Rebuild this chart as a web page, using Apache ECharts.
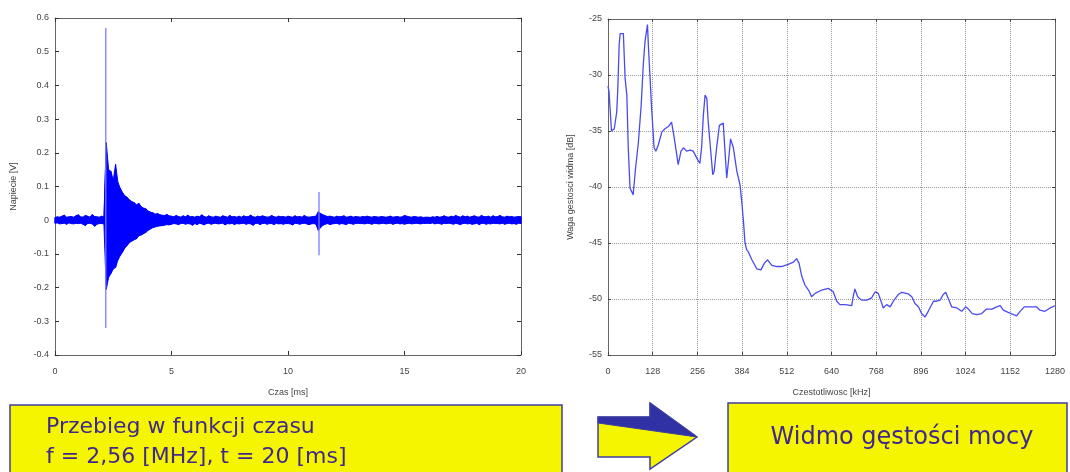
<!DOCTYPE html>
<html>
<head>
<meta charset="utf-8">
<script src="https://cdn.jsdelivr.net/npm/echarts@6/dist/echarts.min.js"></script>
<style>
  html, body { margin: 0; padding: 0; background: #fff; }
  #chart { width: 1070px; height: 472px; }
</style>
</head>
<body>
<div id="chart"></div>
<script>
// time signal, sampled envelope every 0.1 ms (upper / lower excursion)
const sigStep = 0.1
const sigHi = [
  .008, .010, .009, .012, .015, .009, .010, .011, .009, .013,
  .016, .010, .009, .014, .012, .009, .017, .011, .010, .009,
  .012, .010, .230, .150, .145, .118, .165, .112, .095, .082,
  .072, .068, .060, .055, .052, .046, .050, .040, .036, .034,
  .027, .024, .022, .018, .020, .016, .015, .014, .017, .013,
  .012, .010, .014, .011, .009, .013, .010, .015, .010, .011,
  .009, .012, .010, .016, .011, .009, .013, .010, .009, .012,
  .010, .009, .013, .011, .009, .014, .010, .011, .009, .012,
  .009, .013, .010, .011, .015, .010, .009, .012, .010, .013,
  .011, .009, .010, .014, .010, .009, .012, .010, .011, .009,
  .012, .010, .009, .013, .010, .011, .009, .014, .010, .009,
  .010, .011, .012, .025, .020, .016, .013, .011, .012, .010,
  .009, .012, .010, .011, .013, .009, .010, .012, .009, .011,
  .010, .009, .011, .010, .012, .010, .009, .011, .010, .009,
  .011, .010, .009, .010, .012, .009, .010, .011, .009, .010,
  .014, .012, .010, .009, .011, .010, .009, .010, .008, .009,
  .009, .008, .010, .009, .011, .009, .010, .013, .010, .009,
  .012, .010, .014, .011, .009, .013, .010, .012, .009, .011,
  .013, .010, .009, .014, .011, .010, .012, .009, .013, .010,
  .011, .014, .010, .009, .012, .010, .011, .009, .010, .011,
  .010
]
const sigLo = [
  -.009, -.008, -.011, -.010, -.009, -.012, -.008, -.010, -.011, -.009,
  -.010, -.009, -.012, -.016, -.010, -.009, -.011, -.018, -.012, -.010,
  -.010, -.011, -.205, -.170, -.158, -.145, -.140, -.118, -.105, -.095,
  -.082, -.075, -.066, -.062, -.058, -.055, -.046, -.044, -.040, -.036,
  -.030, -.026, -.022, -.020, -.018, -.017, -.016, -.015, -.013, -.014,
  -.012, -.010, -.011, -.013, -.010, -.009, -.012, -.010, -.011, -.015,
  -.010, -.013, -.009, -.011, -.014, -.010, -.009, -.012, -.010, -.009,
  -.011, -.010, -.009, -.014, -.010, -.011, -.009, -.013, -.010, -.011,
  -.010, -.009, -.012, -.010, -.011, -.015, -.010, -.009, -.013, -.010,
  -.009, -.012, -.010, -.010, -.013, -.009, -.011, -.010, -.012, -.010,
  -.010, -.011, -.014, -.009, -.010, -.012, -.010, -.009, -.011, -.013,
  -.011, -.010, -.012, -.030, -.022, -.015, -.012, -.010, -.013, -.011,
  -.010, -.009, -.012, -.010, -.011, -.013, -.009, -.010, -.012, -.010,
  -.009, -.010, -.010, -.011, -.009, -.010, -.012, -.009, -.010, -.011,
  -.010, -.009, -.011, -.010, -.009, -.012, -.010, -.009, -.011, -.010,
  -.012, -.010, -.009, -.011, -.010, -.009, -.010, -.011, -.009, -.010,
  -.009, -.010, -.008, -.011, -.009, -.010, -.012, -.009, -.010, -.009,
  -.010, -.012, -.009, -.011, -.013, -.010, -.009, -.011, -.010, -.012,
  -.011, -.009, -.013, -.010, -.009, -.012, -.010, -.011, -.009, -.010,
  -.010, -.011, -.009, -.012, -.010, -.009, -.011, -.010, -.012, -.009,
  -.010
]
// single sharp spikes: time [ms], max, min
const spikeT = [2.18, 11.33]
const spikeHi = [0.57, 0.084]
const spikeLo = [-0.32, -0.104]

// power spectral density: [kHz, dB]
const spectrum = [
  [0, -31.0], [3, -31.5], [10, -35.0], [18, -34.8], [25, -33.3], [28, -31.3], [32, -27.3], [35, -26.3],
  [44, -26.3], [49, -30.3], [54, -31.8], [58, -36.5], [63, -40.1], [72, -40.7], [79, -38.3], [87, -36.0],
  [95, -32.7], [101, -29.1], [106, -27.0], [113, -25.5], [116, -27.6], [120, -30.0], [125, -33.0], [132, -36.5],
  [137, -36.8], [144, -36.25], [154, -35.1], [163, -34.8], [173, -34.6], [182, -34.2], [187, -35.1], [194, -36.5],
  [201, -38.0], [209, -36.8], [216, -36.5], [225, -36.8], [235, -36.7], [244, -36.8], [254, -37.4], [263, -37.9],
  [268, -36.5], [273, -33.6], [278, -31.8], [283, -32.1], [287, -34.2], [295, -37.1], [300, -38.9], [304, -38.6],
  [311, -36.5], [319, -34.5], [330, -34.3], [335, -36.8], [340, -39.2], [345, -37.7], [351, -35.7], [359, -36.5],
  [369, -38.6], [378, -39.8], [383, -41.3], [388, -43.1], [392, -44.9], [397, -45.6], [402, -45.8], [412, -46.5],
  [426, -47.3], [438, -47.4], [448, -46.8], [457, -46.5], [469, -47.0], [483, -47.1], [497, -47.1], [516, -46.9],
  [531, -46.7], [540, -46.4], [547, -46.8], [555, -48.0], [564, -48.75], [576, -49.3], [583, -49.8], [593, -49.5],
  [612, -49.2], [631, -49.05], [645, -49.35], [655, -50.2], [664, -50.5], [679, -50.5], [698, -50.6], [702, -49.8],
  [707, -49.1], [715, -49.8], [726, -50.1], [741, -50.1], [755, -49.9], [765, -49.35], [774, -49.5], [784, -50.4],
  [788, -50.8], [798, -50.5], [808, -50.7], [817, -50.2], [831, -49.6], [841, -49.4], [860, -49.55], [870, -49.8],
  [879, -50.4], [889, -50.7], [898, -51.3], [908, -51.6], [917, -51.1], [932, -50.2], [941, -50.2], [951, -50.1],
  [960, -49.6], [967, -49.4], [975, -50.0], [984, -50.7], [999, -50.8], [1013, -51.1], [1024, -50.7], [1032, -50.9],
  [1043, -51.3], [1056, -51.4], [1070, -51.3], [1084, -50.9], [1099, -50.9], [1113, -50.7], [1123, -50.6], [1132, -51.0],
  [1146, -51.2], [1161, -51.4], [1170, -51.5], [1180, -51.1], [1192, -50.7], [1204, -50.7], [1208, -50.6], [1218, -50.7],
  [1227, -50.7], [1237, -51.0], [1251, -51.1], [1266, -50.8], [1280, -50.6]
]

const timeTicks = { min: 0, max: 20, interval: 5 }
const voltTicks = { min: -0.4, max: 0.6, interval: 0.1 }
const freqTicks = { min: 0, max: 1280, interval: 128 }
const dbTicks = { min: -55, max: -25, interval: 5 }

const leftTitle = ['Przebieg w funkcji czasu', 'f = 2,56 [MHz], t = 20 [ms]']
const rightTitle = 'Widmo gęstości mocy'

const myChart = echarts.init(document.getElementById('chart'))

// zigzag between upper and lower excursion -> jagged signal texture
let signal = []
sigHi.forEach((h, i) => {
  const t = +(i * sigStep).toFixed(2)
  signal.push([t, h])
  signal.push([t, sigLo[i]])
})

// filled envelope (upper forward, lower backward), mapped through the axes
function renderBand(params, api) {
  let pts = []
  for (let i = 0; i < sigHi.length; i++) pts.push(api.coord([i * sigStep, sigHi[i]]))
  for (let i = sigLo.length - 1; i >= 0; i--) pts.push(api.coord([i * sigStep, sigLo[i]]))
  return {
    type: 'polygon',
    shape: { points: pts },
    style: { fill: '#0000ff', stroke: '#0000ff', lineWidth: 1 }
  }
}

const labelStyle = { color: '#444', fontSize: 9, fontFamily: 'Liberation Sans' }
const nameStyle = { color: '#444', fontSize: 9, fontFamily: 'Liberation Sans' }
const frame = { show: true, onZero: false, lineStyle: { color: '#666', width: 1 } }
const inTick = { show: true, inside: true, length: 4, lineStyle: { color: '#333' } }
const plain = (v) => String(+v.toFixed(2))

function boxAxes(ticks, gridIndex, pos, extra) {
  return Object.assign({
    type: 'value', gridIndex: gridIndex, position: pos,
    min: ticks.min, max: ticks.max, interval: ticks.interval,
    axisLine: frame, axisTick: inTick,
    axisLabel: { show: false }, splitLine: { show: false }
  }, extra || {})
}

const yellow = '#f5f500'
const boxLine = '#3f3f9f'
const textColor = '#40298c'
const smallTick = { show: true, inside: true, length: 3, lineStyle: { color: '#444' } }
const dotted = { show: true, lineStyle: { color: '#9a9a9a', type: 'dotted', width: 1 } }

const option = {
  animation: false,
  backgroundColor: '#fff',
  grid: [
    { left: 55, top: 18, width: 466, height: 337, outerBoundsMode: 'none' },
    { left: 608, top: 19, width: 447, height: 336, outerBoundsMode: 'none' }
  ],
  xAxis: [
    boxAxes(timeTicks, 0, 'bottom', {
      name: 'Czas [ms]', nameLocation: 'middle', nameGap: 33, nameTextStyle: nameStyle,
      axisLabel: Object.assign({ margin: 12, formatter: plain }, labelStyle)
    }),
    boxAxes(timeTicks, 0, 'top'),
    boxAxes(freqTicks, 1, 'bottom', {
      name: 'Czestotliwosc [kHz]', nameLocation: 'middle', nameGap: 33, nameTextStyle: nameStyle,
      axisLabel: Object.assign({ margin: 12, formatter: plain }, labelStyle),
      axisTick: smallTick, splitLine: dotted
    }),
    boxAxes(freqTicks, 1, 'top', { axisTick: smallTick })
  ],
  yAxis: [
    boxAxes(voltTicks, 0, 'left', {
      name: 'Napiecie [V]', nameLocation: 'middle', nameGap: 37, nameTextStyle: nameStyle,
      axisLabel: Object.assign({ margin: 6, formatter: plain }, labelStyle)
    }),
    boxAxes(voltTicks, 0, 'right'),
    boxAxes(dbTicks, 1, 'left', {
      name: 'Waga gestosci widma [dB]', nameLocation: 'middle', nameGap: 33, nameTextStyle: nameStyle,
      axisLabel: Object.assign({ margin: 6, formatter: plain }, labelStyle),
      axisTick: smallTick, splitLine: dotted
    }),
    boxAxes(dbTicks, 1, 'right', { axisTick: smallTick })
  ],
  series: [
    {
      name: 'band', type: 'custom', xAxisIndex: 0, yAxisIndex: 0,
      data: [[0, 0]], renderItem: renderBand, silent: true
    },
    {
      name: 'signal', type: 'line', xAxisIndex: 0, yAxisIndex: 0,
      data: signal, showSymbol: false, symbol: 'none',
      lineStyle: { color: '#0000ff', width: 1 }
    },
    ...spikeT.map((t, i) => ({
      name: 'spike' + i, type: 'line', xAxisIndex: 0, yAxisIndex: 0,
      data: [[t, spikeHi[i]], [t, spikeLo[i]]], symbol: 'none',
      lineStyle: { color: '#7a7aff', width: 1.3 }
    })),
    {
      name: 'psd', type: 'line', xAxisIndex: 2, yAxisIndex: 2,
      data: spectrum, symbol: 'none',
      lineStyle: { color: '#4a4af2', width: 1.3 }
    }
  ],
  graphic: [
    {
      type: 'rect', shape: { x: 10, y: 405, width: 552, height: 80 },
      style: { fill: yellow, stroke: boxLine, lineWidth: 1.5 }
    },
    {
      type: 'text', x: 46, y: 427,
      style: { text: leftTitle[0], fill: textColor, font: '22px "DejaVu Sans"', verticalAlign: 'middle' }
    },
    {
      type: 'text', x: 46, y: 457,
      style: { text: leftTitle[1], fill: textColor, font: '22px "DejaVu Sans"', verticalAlign: 'middle' }
    },
    {
      type: 'polygon',
      shape: { points: [[598, 417], [650, 417], [650, 403], [697, 437], [650, 469], [650, 457], [598, 457]] },
      style: { fill: yellow, stroke: boxLine, lineWidth: 1.5 }
    },
    {
      type: 'polygon',
      shape: { points: [[598, 417], [650, 417], [650, 403], [697, 437], [598, 423]] },
      style: { fill: '#3131a6', stroke: boxLine, lineWidth: 1 }
    },
    {
      type: 'rect', shape: { x: 728, y: 403, width: 339, height: 80 },
      style: { fill: yellow, stroke: boxLine, lineWidth: 1.5 }
    },
    {
      type: 'text', x: 902, y: 438,
      style: { text: rightTitle, fill: textColor, font: '24px "DejaVu Sans"', align: 'center', verticalAlign: 'middle' }
    }
  ]
}
myChart.setOption(option)
</script>
</body>
</html>
